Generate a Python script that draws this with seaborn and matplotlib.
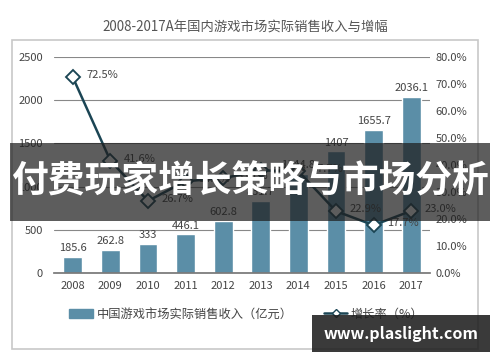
import numpy as np
import pandas as pd
import matplotlib
matplotlib.use("Agg")
import matplotlib.pyplot as plt
import seaborn as sns
from matplotlib.patches import Rectangle
from matplotlib.lines import Line2D
from matplotlib.patches import Patch

years = ["2008", "2009", "2010", "2011", "2012", "2013", "2014", "2015", "2016", "2017"]
revenue = [185.6, 262.8, 333, 446.1, 602.8, 831.7, 1144.8, 1407, 1655.7, 2036.1]
growth = [72.5, 41.6, 26.7, 34.0, 35.1, 38.0, 37.7, 22.9, 17.7, 23.0]
rev_labels = ["185.6", "262.8", "333", "446.1", "602.8", "831.7", "1144.8", "1407", "1655.7", "2036.1"]

sns.set_theme(style="white")
plt.rcParams["font.family"] = ["Noto Sans CJK SC", "DejaVu Sans"]

bar_color = "#5b8ea7"
line_color = "#1b4554"
txt_color = "#444444"

df = pd.DataFrame({"year": years, "revenue": revenue, "growth": growth})

fig = plt.figure(figsize=(5, 3.62), dpi=100)
fig.patch.set_facecolor("white")

# chart frame
fig.patches.append(Rectangle((12 / 500, 1 - 349 / 362), 466 / 500, 309 / 362,
                             transform=fig.transFigure, fill=False,
                             edgecolor="#c8c8c8", lw=1.2))
fig.text(0.49, 1 - 28 / 362, "2008-2017A年国内游戏市场实际销售收入与增幅",
         ha="center", va="center", fontsize=9.6, color="#555555")

ax = fig.add_axes([54 / 500, 1 - 273 / 362, 376 / 500, 216 / 362])
sns.barplot(data=df, x="year", y="revenue", color=bar_color, width=0.5,
            saturation=1, ax=ax)
ax.set_ylim(0, 2500)
ax.set_yticks([0, 500, 1000, 1500, 2000, 2500])
ax.yaxis.grid(True, color="#888888", lw=0.8)
ax.set_axisbelow(True)
for s in ["top", "left", "right"]:
    ax.spines[s].set_visible(False)
ax.spines["bottom"].set_color("#777777")
ax.set_xlabel("")
ax.set_ylabel("")
ax.tick_params(axis="both", length=0, labelsize=8, colors=txt_color)
ax.tick_params(axis="y", pad=8)
ax.tick_params(axis="x", pad=6)
for i, v in enumerate(revenue):
    ax.text(i, v + 45, rev_labels[i], ha="center", va="bottom",
            fontsize=8, color=txt_color)

ax2 = ax.twinx()
sns.pointplot(data=df, x="year", y="growth", color=line_color, ax=ax2,
              marker="D", markersize=7, markerfacecolor="white",
              markeredgecolor=line_color, linewidth=1.8)
ax2.set_ylim(0, 80)
ax2.set_yticks(np.arange(0, 81, 10))
ax2.set_yticklabels([f"{t:.1f}%" for t in np.arange(0, 81, 10)])
ax2.tick_params(axis="y", length=0, labelsize=8, colors=txt_color, pad=4)
for s in ["top", "left", "right", "bottom"]:
    ax2.spines[s].set_visible(False)
ax2.set_ylabel("")
ax2.set_xlabel("")
ax2.set_xlim(-0.5, 9.5)
ax.set_xlim(-0.5, 9.5)
for i, g in enumerate(growth):
    ax2.text(i + 0.36, g + 0.8, f"{g:.1f}%", ha="left", va="center",
             fontsize=8, color=txt_color)

# legend
handles = [Patch(color=bar_color, label="中国游戏市场实际销售收入（亿元）"),
           Line2D([0], [0], color=line_color, marker="D", markerfacecolor="white",
                  markersize=4, lw=1.8, label="增长率（%）")]
fig.legend(handles=handles, loc="center", bbox_to_anchor=(0.493, 1 - 314 / 362),
           ncol=2, frameon=False, fontsize=8.8, labelcolor=txt_color,
           handlelength=1.9, handletextpad=0.3, columnspacing=2.6)

# overlay banner
fig.patches.append(Rectangle((10 / 500, 1 - 221 / 362), 480 / 500, 78 / 362,
                             transform=fig.transFigure, facecolor="#1e1e1e",
                             alpha=0.72, edgecolor="none", zorder=10))
fig.text(0.5, 1 - 182 / 362, "付费玩家增长策略与市场分析", ha="center", va="center",
         fontsize=26.5, fontweight="heavy", color="white", zorder=11)

# watermark
fig.patches.append(Rectangle((312 / 500, 1 - 352 / 362), 178 / 500, 37 / 362,
                             transform=fig.transFigure, facecolor="#1e1e1e",
                             alpha=0.88, edgecolor="none", zorder=10))
fig.text(401 / 500, 1 - 334 / 362, "www.plaslight.com", ha="center", va="center",
         fontsize=11.5, fontweight="bold", color="white", zorder=11)

fig.savefig("out.png", dpi=100)
